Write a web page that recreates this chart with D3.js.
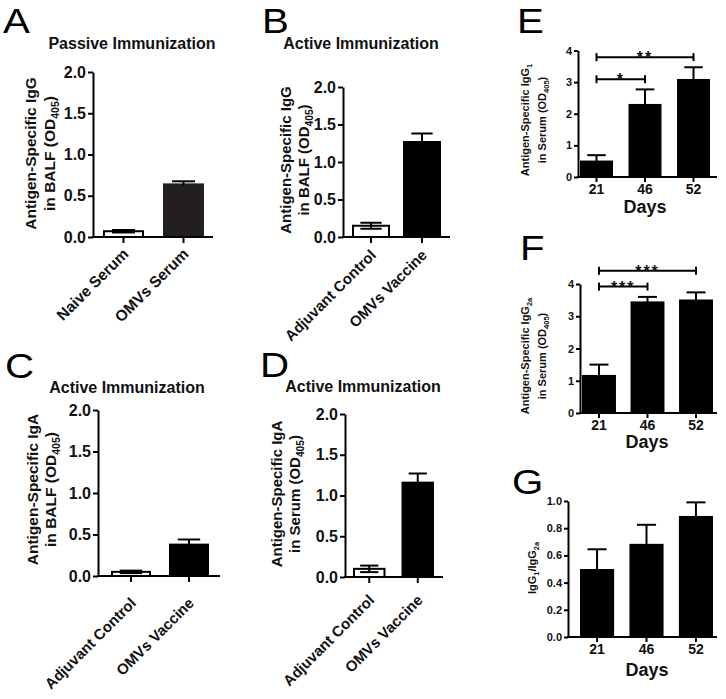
<!DOCTYPE html>
<html><head><meta charset="utf-8">
<script src="https://cdn.jsdelivr.net/npm/d3@7"></script>
<style>
body{margin:0;background:#fff;}
svg{display:block;font-family:"Liberation Sans",Arial,sans-serif;}
</style></head><body>
<svg id="chart" width="726" height="699"></svg>
<script>
// ---------- DATA ----------
const catsA = ["Naive Serum", "OMVs Serum"];
const valuesA = [0.07, 0.65];
const errorsA = [0.015, 0.025];
const catsBCD = ["Adjuvant Control", "OMVs Vaccine"];
const valuesB = [0.15, 1.28];
const errorsB = [0.04, 0.10];
const valuesC = [0.05, 0.39];
const errorsC = [0.015, 0.05];
const valuesD = [0.10, 1.17];
const errorsD = [0.04, 0.10];
const days = ["21", "46", "52"];
const valuesE = [0.52, 2.31, 3.10];
const errorsE = [0.17, 0.46, 0.37];
const valuesF = [1.18, 3.46, 3.52];
const errorsF = [0.32, 0.14, 0.22];
const valuesG = [0.50, 0.685, 0.89];
const errorsG = [0.145, 0.14, 0.10];
const ticksABCD = [0, 0.5, 1.0, 1.5, 2.0];
const ticksEF = [0, 1, 2, 3, 4];
const ticksG = [0, 0.2, 0.4, 0.6, 0.8, 1.0];
const sigE = [{from: "21", to: "52", label: "**"}, {from: "21", to: "46", label: "*"}];
const sigF = [{from: "21", to: "52", label: "***"}, {from: "21", to: "46", label: "***"}];

// ---------- LAYOUT ----------
const svg = d3.select("#chart");
const F = "Liberation Sans, Arial, sans-serif";

const panels = [
  {letter:"A", lx:3, ly:33, title:"Passive Immunization", tx:132, ty:49, titleFont:16,
   ax:93, y0:237, yTop:72, xEnd:213, br:[103,204], pad:0.317, max:2, ticks:ticksABCD, fmt:".1f", tickFont:16,
   cats:catsA, vals:valuesA, errs:errorsA, fills:["#fff","#231f20"],
   yLines:[[["Antigen-Specific IgG"]],[["in BALF (OD"],["405","sub"],[")"]]], yX:[36,55], yY:153.5, yFont:15.5,
   rot:true, xlOff:[6,18], xlFont:15.5},
  {letter:"B", lx:262, ly:33, title:"Active Immunization", tx:361, ty:49, titleFont:16,
   ax:343, y0:237, yTop:87, xEnd:450, br:[352,441], pad:0.255, max:2, ticks:ticksABCD, fmt:".1f", tickFont:16,
   cats:catsBCD, vals:valuesB, errs:errorsB, fills:["#fff","#000"],
   yLines:[[["Antigen-Specific IgG"]],[["in BALF (OD"],["405","sub"],[")"]]], yX:[291,309], yY:160, yFont:15,
   rot:true, xlOff:[6,19], xlFont:15},
  {letter:"C", lx:5, ly:378, title:"Active Immunization", tx:127, ty:393, titleFont:16,
   ax:98, y0:576, yTop:410, xEnd:220, br:[111,209], pad:0.31, max:2, ticks:ticksABCD, fmt:".1f", tickFont:16,
   cats:catsBCD, vals:valuesC, errs:errorsC, fills:["#fff","#000"],
   yLines:[[["Antigen-Specific IgA"]],[["in BALF (OD"],["405","sub"],[")"]]], yX:[37.5,56], yY:489.5, yFont:15.5,
   rot:true, xlOff:[6,28], xlFont:15},
  {letter:"D", lx:260, ly:377, title:"Active Immunization", tx:363, ty:392, titleFont:16,
   ax:345, y0:577, yTop:414, xEnd:443, br:[353,434], pad:0.33, max:2, ticks:ticksABCD, fmt:".1f", tickFont:16,
   cats:catsBCD, vals:valuesD, errs:errorsD, fills:["#fff","#000"],
   yLines:[[["Antigen-Specific IgA"]],[["in Serum (OD"],["405","sub"],[")"]]], yX:[282,300], yY:494, yFont:15,
   rot:true, xlOff:[6,24], xlFont:15},
  {letter:"E", lx:517, ly:33,
   ax:578, y0:177, yTop:50.5, xEnd:717, br:[580,710], pad:0.32, max:4, ticks:ticksEF, fmt:"d", tickFont:11,
   cats:days, vals:valuesE, errs:errorsE, fills:["#000","#000","#000"],
   yLines:[[["Antigen-Specific  IgG"],["1","sub"]],[["in Serum (OD"],["405","sub"],[")"]]], yX:[529,546], yY:120, yFont:11,
   rot:false, days:[645,213], sig:sigE, sigLevels:[3.79,3.09]},
  {letter:"F", lx:520, ly:260,
   ax:580, y0:413, yTop:284, xEnd:717, br:[582,713], pad:0.30, max:4, ticks:ticksEF, fmt:"d", tickFont:11,
   cats:days, vals:valuesF, errs:errorsF, fills:["#000","#000","#000"],
   yLines:[[["Antigen-Specific  IgG"],["2a","sub"]],[["in Serum (OD"],["405","sub"],[")"]]], yX:[529,546], yY:356, yFont:11,
   rot:false, days:[647,448], sig:sigF, sigLevels:[4.41,3.92]},
  {letter:"G", lx:512, ly:494,
   ax:568, y0:637, yTop:501, xEnd:717, br:[580,713], pad:0.31, max:1, ticks:ticksG, fmt:".1f", tickFont:11,
   cats:days, vals:valuesG, errs:errorsG, fills:["#000","#000","#000"],
   yLines:[[["IgG"],["1","sub"],["/IgG"],["2a","sub"]]], yX:[536], yY:568, yFont:11,
   rot:false, days:[647,676]}
];

function richText(sel, segs, size) {
  segs.forEach(s => {
    if (s[1] === "sub") {
      sel.append("tspan").attr("font-size", size*0.68).attr("dy", size*0.28).text(s[0]);
    } else {
      const t = sel.append("tspan").attr("font-size", size).text(s[0]);
      if (sel.selectAll("tspan").size() > 1) t.attr("dy", -size*0.28);
    }
  });
}

panels.forEach(p => {
  const g = svg.append("g");
  // panel letter
  g.append("text").attr("transform", `translate(${p.lx},${p.ly}) scale(1.15,1)`)
    .attr("font-size", 35).attr("font-family", F).attr("fill", "#000").text(p.letter);
  if (p.title) {
    g.append("text").attr("x", p.tx).attr("y", p.ty).attr("text-anchor", "middle")
      .attr("font-size", p.titleFont).attr("font-weight", "bold").attr("fill", "#111").text(p.title);
  }
  const y = d3.scaleLinear().domain([0, p.max]).range([p.y0, p.yTop]);
  const x = d3.scaleBand().domain(p.cats).range(p.br).paddingInner(p.pad).paddingOuter(0);
  const bw = x.bandwidth();

  // bars
  g.selectAll("rect.bar").data(p.vals).join("rect")
    .attr("x", (d,i) => x(p.cats[i]) + (p.fills[i] === "#fff" ? 1 : 0))
    .attr("width", (d,i) => bw - (p.fills[i] === "#fff" ? 2 : 0))
    .attr("y", d => y(d))
    .attr("height", d => p.y0 - y(d))
    .attr("fill", (d,i) => p.fills[i])
    .attr("stroke", "#000").attr("stroke-width", (d,i) => p.fills[i] === "#fff" ? 2 : 0);

  // error bars
  const eb = g.append("g").attr("stroke", "#000").attr("stroke-width", 2).attr("fill", "none");
  p.vals.forEach((v,i) => {
    const cx = x(p.cats[i]) + bw/2, hw = bw*0.28;
    const hi = y(v + p.errs[i]), lo = y(Math.max(0, v - p.errs[i]));
    eb.append("line").attr("x1", cx).attr("x2", cx).attr("y1", hi).attr("y2", lo);
    eb.append("line").attr("x1", cx-hw).attr("x2", cx+hw).attr("y1", hi).attr("y2", hi);
    if (p.fills[i] === "#fff") eb.append("line").attr("x1", cx-hw).attr("x2", cx+hw).attr("y1", lo).attr("y2", lo);
  });

  // y axis
  const yAx = g.append("g").attr("transform", `translate(${p.ax},0)`)
    .call(d3.axisLeft(y).tickValues(p.ticks).tickFormat(d3.format(p.fmt)).tickSize(p.tickFont > 12 ? 5 : 4).tickPadding(2).tickSizeOuter(0));
  yAx.select(".domain").attr("stroke-width", 2);
  yAx.selectAll(".tick line").attr("stroke-width", 2);
  yAx.selectAll(".tick text").attr("font-size", p.tickFont).attr("font-weight", "bold")
    .attr("font-family", F).attr("fill", "#111");

  // x axis line
  g.append("line").attr("x1", p.ax - 1).attr("x2", p.xEnd).attr("y1", p.y0).attr("y2", p.y0)
    .attr("stroke", "#000").attr("stroke-width", 2);
  const xAx = g.append("g").attr("transform", `translate(0,${p.y0})`)
    .call(d3.axisBottom(x).tickSize(p.rot ? 6 : 5).tickSizeOuter(0));
  xAx.select(".domain").remove();
  xAx.selectAll(".tick line").attr("stroke-width", 2);
  if (p.rot) {
    xAx.selectAll(".tick text")
      .attr("x", 0).attr("y", 0).attr("dy", 0)
      .attr("transform", `translate(${p.xlOff[0]},${p.xlOff[1]}) rotate(-45)`)
      .attr("text-anchor", "end").attr("font-size", p.xlFont).attr("font-weight", "bold")
      .attr("font-family", F).attr("fill", "#111");
  } else {
    xAx.selectAll(".tick text").attr("y", 0).attr("dy", 17)
      .attr("font-size", 14).attr("font-weight", "bold").attr("font-family", F).attr("fill", "#111");
    g.append("text").attr("x", p.days[0]).attr("y", p.days[1]).attr("text-anchor", "middle")
      .attr("font-size", 18).attr("font-weight", "bold").attr("fill", "#111").text("Days");
  }

  // y titles
  p.yLines.forEach((segs, li) => {
    const t = g.append("text")
      .attr("transform", `translate(${p.yX[li]},${p.yY}) rotate(-90)`)
      .attr("text-anchor", "middle").attr("font-weight", "bold").attr("fill", "#111")
      .attr("font-size", p.yFont);
    richText(t, segs, p.yFont);
  });

  // significance brackets
  if (p.sig) {
    const sg = g.append("g");
    p.sig.forEach((s, k) => {
      const ly = y(p.sigLevels[k]);
      const x1 = x(s.from) + bw/2, x2 = x(s.to) + bw/2;
      sg.append("line").attr("x1", x1).attr("x2", x2).attr("y1", ly).attr("y2", ly)
        .attr("stroke", "#000").attr("stroke-width", 2);
      [x1, x2].forEach(xx => sg.append("line").attr("x1", xx).attr("x2", xx)
        .attr("y1", ly - 4).attr("y2", ly + 4).attr("stroke", "#000").attr("stroke-width", 2));
      sg.append("text").attr("x", (x1 + x2)/2).attr("y", ly + 6).attr("text-anchor", "middle")
        .attr("font-size", 16).attr("font-weight", "bold").attr("letter-spacing", 2)
        .attr("fill", "#111").text(s.label);
    });
  }
});
</script>
</body></html>
